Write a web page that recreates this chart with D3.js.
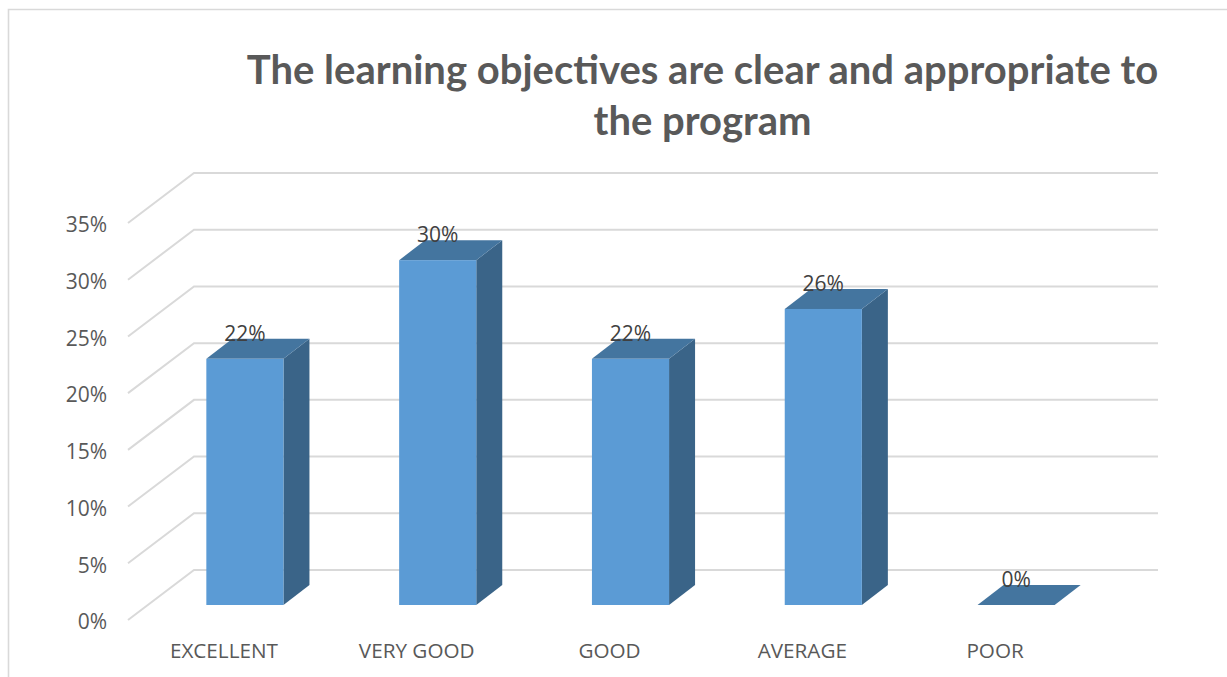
<!DOCTYPE html>
<html><head><meta charset="utf-8">
<script src="https://cdnjs.cloudflare.com/ajax/libs/d3/7.8.5/d3.min.js"></script>
<style>
html,body{margin:0;padding:0;background:#fff;overflow:hidden}
svg{display:block}
text{font-family:"Open Sans",sans-serif}
</style></head><body>
<svg id="c" width="1227" height="677"></svg>
<script>
const categories = ["EXCELLENT","VERY GOOD","GOOD","AVERAGE","POOR"];
const values = [0.217,0.304,0.217,0.261,0];
const tickValues = [0,0.05,0.10,0.15,0.20,0.25,0.30,0.35];
const titleLines = ["The learning objectives are clear and appropriate to","the program"];

const svg = d3.select("#c");
const x = d3.scaleBand().domain(categories).range([129,1093]).paddingInner(0.6).paddingOuter(0.3);
const y = d3.scaleLinear().domain([0,0.35]).range([620,223]);
const wall = {dx:66,dy:-50}, barFront = {dx:20,dy:-15}, barDepth = {dx:26,dy:-20};

svg.append("path").attr("d","M8.5,677V9.5H1227").attr("fill","none").attr("stroke","#d9d9d9").attr("stroke-width",1.6);

svg.append("g").selectAll("text").data(titleLines).join("text")
  .attr("x",702.5).attr("y",(d,i)=>84+i*51)
  .attr("text-anchor","middle").attr("font-size",40).attr("font-weight",700).attr("fill","#595959")
  .style("font-family","Lato,sans-serif")
  .text(d=>d);

svg.append("g").selectAll("path").data(tickValues).join("path")
  .attr("d",d=>{const p=d3.path();p.moveTo(128,y(d));p.lineTo(128+wall.dx,y(d)+wall.dy);p.lineTo(1158,y(d)+wall.dy);return p.toString();})
  .attr("fill","none").attr("stroke","#d9d9d9").attr("stroke-width",2);

const yAxis = svg.append("g").attr("transform","translate(116,2)")
  .call(d3.axisLeft(y).tickValues(tickValues).tickFormat(d3.format(".0%")).tickSize(0).tickPadding(9));
yAxis.select(".domain").remove();
yAxis.selectAll("text").attr("font-size",21).attr("fill","#595959").style("font-family",'"Open Sans",sans-serif');

const xAxis = svg.append("g").attr("transform","translate(-1.5,640)")
  .call(d3.axisBottom(x).tickSize(0).tickPadding(0));
xAxis.select(".domain").remove();
xAxis.selectAll("text").attr("font-size",20.7).attr("fill","#595959").attr("dy","0.85em").style("font-family",'"Open Sans",sans-serif');

const bars = svg.append("g").selectAll("g").data(categories.map((c,i)=>({c,v:values[i]}))).join("g");
const X0 = d=>x(d.c)+barFront.dx-.5, W = x.bandwidth(), B = y(0)+barFront.dy, T = d=>y(d.v)+barFront.dy;
bars.filter(d=>d.v>0).append("path").attr("fill","#3a6488")
  .attr("d",d=>{const a=X0(d)+W;return `M${a},${T(d)}l${barDepth.dx},${barDepth.dy}V${B+barDepth.dy}l${-barDepth.dx},${-barDepth.dy}Z`;});
bars.append("path").attr("fill","#44759f")
  .attr("d",d=>`M${X0(d)},${T(d)}l${barDepth.dx},${barDepth.dy}h${W}l${-barDepth.dx},${-barDepth.dy}Z`);
bars.filter(d=>d.v>0).append("rect").attr("fill","#5b9bd5")
  .attr("x",X0).attr("y",T).attr("width",W).attr("height",d=>B-T(d));

bars.append("text").attr("x",d=>X0(d)+W/2).attr("y",d=>T(d)-25.5).attr("dy","0.35em")
  .attr("text-anchor","middle").attr("font-size",21).attr("fill","#404040")
  .text(d=>d3.format(".0%")(d.v));
</script>
</body></html>
